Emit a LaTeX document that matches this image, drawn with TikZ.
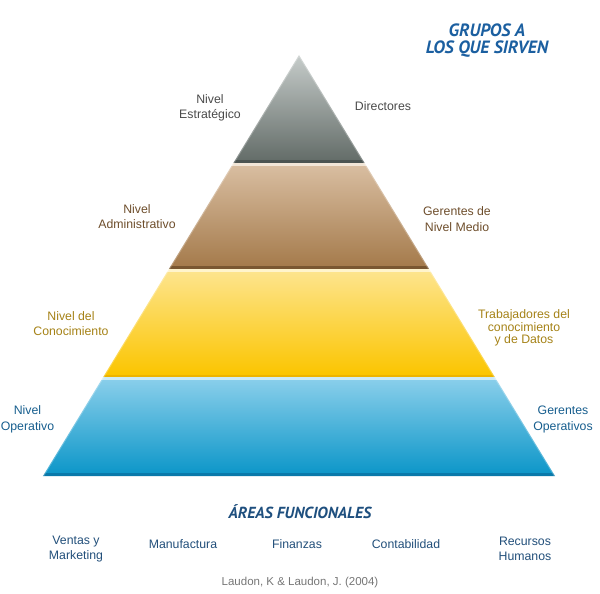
\documentclass[tikz,border=0pt]{standalone}
\usepackage{fontspec}
\setmainfont{Liberation Sans}
\newfontfamily\headfont{PT Sans}
\definecolor{gTop}{HTML}{C6CCCA}
\definecolor{gBot}{HTML}{646D69}
\definecolor{gBand}{HTML}{4B5350}
\definecolor{bStrip}{HTML}{F1E5D6}
\definecolor{bTop}{HTML}{D8BDA0}
\definecolor{bBot}{HTML}{A57B4C}
\definecolor{bBand}{HTML}{7A5731}
\definecolor{yStrip}{HTML}{FFF4CC}
\definecolor{yTop}{HTML}{FDE48C}
\definecolor{yBot}{HTML}{FBC500}
\definecolor{yBand}{HTML}{EDB400}
\definecolor{uStrip}{HTML}{CDEBF6}
\definecolor{uTop}{HTML}{88CEEA}
\definecolor{uBot}{HTML}{0E97C9}
\definecolor{uBand}{HTML}{0A79AA}
\definecolor{txGray}{HTML}{4A4A4A}
\definecolor{txBrown}{HTML}{6E4E2C}
\definecolor{txGold}{HTML}{A58217}
\definecolor{txBlue}{HTML}{175E8E}
\definecolor{txNavy}{HTML}{224F7A}
\definecolor{titleBlue}{HTML}{1B5FA0}
\definecolor{areasBlue}{HTML}{1E4F7E}
\definecolor{citeGray}{HTML}{767676}
\newcommand\trap[3]{%
  \path[#3] ({299-(#1-55)*0.6081},#1) -- ({299+(#1-55)*0.6081},#1)
    -- ({299+(#2-55)*0.6081},#2) -- ({299-(#2-55)*0.6081},#2) -- cycle;}
\tikzset{
  lbl/.style={align=center, inner sep=0pt, font=\fontsize{12.3}{15.5}\selectfont},
  head/.style={align=center, inner sep=0pt, font=\headfont\bfseries\itshape\fontsize{16}{17}\selectfont},
}
\begin{document}
\begin{tikzpicture}[x=1pt,y=-1pt]
\useasboundingbox (0,0) rectangle (600,594);
% gray layer
\trap{55}{160}{top color=gTop,bottom color=gBot}
\trap{160}{163}{fill=gBand}
% brown layer
\trap{163}{166}{fill=bStrip}
\trap{166}{266}{top color=bTop,bottom color=bBot}
\trap{266}{269}{fill=bBand}
% yellow layer
\trap{269}{272}{fill=yStrip}
\trap{272}{375}{top color=yTop,bottom color=yBot}
\trap{375}{377}{fill=yBand}
% blue layer
\trap{377}{380}{fill=uStrip}
\trap{380}{473}{top color=uTop,bottom color=uBot}
\trap{473}{476}{fill=uBand}
% soft edges
\draw[white,opacity=0.25,line width=2pt] ({299-(476-55)*0.6081},476) -- (299,55) -- ({299+(476-55)*0.6081},476);

% labels
\node[head,text=titleBlue,font=\headfont\bfseries\itshape\fontsize{17.8}{17}\selectfont] (title) at (487,40.5) {GRUPOS A\\LOS QUE SIRVEN};
\node[lbl,text=txGray] (estr) at (210,108) {Nivel\\Estratégico};
\node[lbl,text=txGray] (dir) at (383,106) {Directores};
\node[lbl,text=txBrown] (adm) at (137,216.5) {Nivel\\Administrativo};
\node[lbl,text=txBrown] (ger) at (457,219) {Gerentes de\\Nivel Medio};
\node[lbl,text=txGold] (con) at (71,323.5) {Nivel del\\Conocimiento};
\node[lbl,text=txGold,font=\fontsize{12.3}{12.5}\selectfont] (trab) at (524,328) {Trabajadores del\\conocimiento\\y de Datos};
\node[lbl,text=txBlue] (ope) at (27.5,419.5) {Nivel\\Operativo};
\node[lbl,text=txBlue] (gop) at (563,419.5) {Gerentes\\Operativos};
\node[head,text=areasBlue] (areas) at (300,512) {ÁREAS FUNCIONALES};
\node[lbl,text=txNavy] (ventas) at (76,549) {Ventas y\\Marketing};
\node[lbl,text=txNavy] (manuf) at (183,544) {Manufactura};
\node[lbl,text=txNavy] (fin) at (297,544) {Finanzas};
\node[lbl,text=txNavy] (cont) at (406,544) {Contabilidad};
\node[lbl,text=txNavy] (rec) at (525,549) {Recursos\\Humanos};
\node[lbl,text=citeGray,font=\fontsize{11.5}{14}\selectfont] (cite) at (300,583) {Laudon, K \& Laudon, J. (2004)};
\end{tikzpicture}
\end{document}
